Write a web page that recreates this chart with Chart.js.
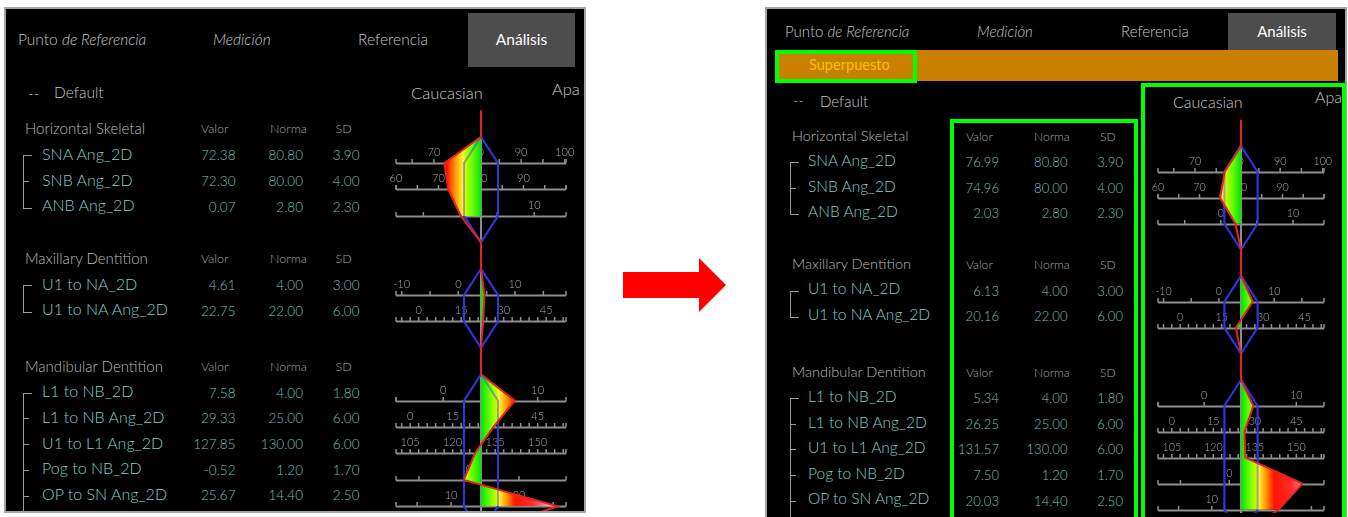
<!DOCTYPE html>
<html><head><meta charset="utf-8">
<script src="https://cdn.jsdelivr.net/npm/chart.js@4.4.1/dist/chart.umd.min.js"></script>
<style>
html,body{margin:0;padding:0;background:#fff;width:1348px;height:517px;overflow:hidden;font-family:Lato,"Noto Sans",sans-serif;font-weight:300;}
.abs{position:absolute;white-space:nowrap;line-height:1;}
.panel{position:absolute;background:#000;box-sizing:border-box;border:2px solid #a4a4a4;overflow:hidden;}
canvas{position:absolute;}
.gbox{position:absolute;box-sizing:border-box;border:4px solid #00ff00;z-index:10;}
</style></head><body>
<script>
// ---------------- DATA ----------------
const tabLabels = ["Punto de Referencia", "Medición", "Referencia", "Análisis"];
const overlayLabel = "Superpuesto";
const analysisName = "Default";
const normGroups = ["Caucasian", "Apa"];
const columnHeads = ["Valor", "Norma", "SD"];
const groupNames = ["Horizontal Skeletal", "Maxillary Dentition", "Mandibular Dentition"];
const groupSizes = [3, 2, 5];
const measures = ["SNA Ang_2D", "SNB Ang_2D", "ANB Ang_2D", "U1 to NA_2D", "U1 to NA Ang_2D",
  "L1 to NB_2D", "L1 to NB Ang_2D", "U1 to L1 Ang_2D", "Pog to NB_2D", "OP to SN Ang_2D"];
const valorBefore = [72.38, 72.30, 0.07, 4.61, 22.75, 7.58, 29.33, 127.85, -0.52, 25.67];
const valorAfter  = [76.99, 74.96, 2.03, 6.13, 20.16, 5.34, 26.25, 131.57, 7.50, 20.03];
const norma = [80.80, 80.00, 2.80, 4.00, 22.00, 4.00, 25.00, 130.00, 1.20, 14.40];
const sd    = [3.90, 4.00, 2.30, 3.00, 6.00, 1.80, 6.00, 6.00, 1.70, 2.50];
const rulerLabels = [[70, 80, 90, 100], [60, 70, 80, 90], [0, 10], [-10, 0, 10], [0, 15, 30, 45],
  [0, 10], [0, 15, 30, 45], [105, 120, 135, 150], [0], [10, 20]];
const rulerMinor = [5, 5, 5, 5, 3, 5, 3, 3, 5, 5];

// ---------------- LAYOUT ----------------
const LEFT = {
  k: 1, frame: {x: 4, y: 7, w: 582, h: 506},
  tabY: 40.5, tabX: [18, 213, 358], active: {x: 468, y: 13, w: 107, h: 54},
  dashX: 28, defaultX: 54, defaultY: 93.5, caucX: 411, caucY: 94, apaX: 552, apaY: 90,
  headY: [129.3, 259, 366.7], headX: 25, rowX: 42, rowStart: 25, rowStep: 25.7,
  colHeadX: [201, 270, 335.5], valRight: [235.5, 303, 359.5], bracketX: 23,
  chart: {left: 383, top: 104, w: 200, h: 407, cx: 481, pxSD: 17, apexY: 136.7, unit: 26.4}
};
const RIGHT = {
  k: 0.97, frame: {x: 765, y: 7, w: 582, h: 520},
  tabY: 31.5, tabX: [785, 977, 1121], active: {x: 1228, y: 13, w: 108, h: 37},
  bar: {x: 775, y: 50, w: 563, h: 31}, barTextX: 809, barTextY: 65.5,
  dashX: 793, defaultX: 820, defaultY: 101.7, caucX: 1173, caucY: 102, apaX: 1315, apaY: 97,
  headY: [136.7, 265, 372.7], headX: 792, rowX: 808, rowStart: 24.5, rowStep: 25.6,
  colHeadX: [966, 1034, 1100], valRight: [999, 1067.5, 1123], bracketX: 790,
  chart: {left: 1145, top: 87, w: 196, h: 426, cx: 1241, pxSD: 16.6, apexY: 145.7, unit: 26.0},
  boxes: [{x: 775, y: 50, w: 142, h: 33}, {x: 950, y: 119, w: 188, h: 402}, {x: 1141, y: 83, w: 205, h: 440}]
};

// ---------------- HELPERS ----------------
function text(parent, str, x, y, fs, color, o = {}) {
  const d = document.createElement('div');
  d.className = 'abs';
  if (o.html) d.innerHTML = o.html; else d.textContent = str;
  d.style.fontSize = fs + 'px';
  d.style.color = color;
  d.style.top = (y - 0.53 * fs) + 'px';
  d.style.left = x + 'px';
  if (o.right) d.style.transform = 'translateX(-100%)';
  if (o.center) d.style.transform = 'translateX(-50%)';
  if (o.italic) d.style.fontStyle = 'italic';
  if (o.weight) d.style.fontWeight = o.weight;
  parent.appendChild(d);
  return d;
}
function box(parent, x, y, w, h, css) {
  const d = document.createElement('div');
  d.style.position = 'absolute';
  d.style.left = x + 'px'; d.style.top = y + 'px';
  d.style.width = w + 'px'; d.style.height = h + 'px';
  Object.assign(d.style, css || {});
  parent.appendChild(d);
  return d;
}

const rulerPlugin = {
  id: 'rulers',
  beforeDatasetsDraw(chart, args, opts) {
    const {ctx} = chart;
    const xs = chart.scales.x, ys = chart.scales.y;
    ctx.save();
    ctx.font = opts.font;
    ctx.textAlign = 'center';
    ctx.textBaseline = 'middle';
    opts.rows.forEach(r => {
      const py = Math.round(ys.getPixelForValue(r.yv)) + 0.5;
      const xa = xs.getPixelForValue(-5), xb = xs.getPixelForValue(5);
      ctx.strokeStyle = '#8e8e8e';
      ctx.lineWidth = 2;
      ctx.beginPath(); ctx.moveTo(xa, py); ctx.lineTo(xb, py); ctx.stroke();
      ctx.lineWidth = 1.5;
      const lo = r.norm - 5 * r.sd, hi = r.norm + 5 * r.sd;
      const tks = [lo, hi];
      for (let t = Math.ceil(lo / r.minor) * r.minor; t <= hi + 1e-9; t += r.minor) tks.push(t);
      tks.forEach(t => {
        const px = xs.getPixelForValue((t - r.norm) / r.sd);
        ctx.beginPath(); ctx.moveTo(px, py); ctx.lineTo(px, py - 4.5); ctx.stroke();
      });
      ctx.fillStyle = '#a8a8a8';
      r.labels.forEach(t => {
        const px = xs.getPixelForValue((t - r.norm) / r.sd);
        ctx.fillText(String(t), px, py - opts.labelOffset);
      });
    });
    ctx.restore();
  }
};

function makeGradient(chart) {
  if (!chart.chartArea) return '#0f0';
  if (chart.$grad) return chart.$grad;
  const xs = chart.scales.x;
  const a = xs.getPixelForValue(-6), b = xs.getPixelForValue(6);
  const g = chart.ctx.createLinearGradient(a, 0, b, 0);
  const stops = [[0, '#00e600'], [0.6, '#7dff00'], [0.97, '#d2ff00'], [1.0, '#ffff40'],
    [1.5, '#ff9a00'], [2.0, '#ff1400'], [3.0, '#ff2a2a'], [4.6, '#fff0f0']];
  const add = (d, c) => g.addColorStop(Math.min(1, Math.max(0, (d + 6) / 12)), c);
  stops.slice().reverse().forEach(([d, c]) => add(-d, c));
  stops.forEach(([d, c]) => add(d, c));
  chart.$grad = g;
  return g;
}

function buildPanel(P, values, isAfter) {
  const panel = document.createElement('div');
  panel.className = 'panel';
  Object.assign(panel.style, {left: P.frame.x + 'px', top: P.frame.y + 'px', width: P.frame.w + 'px', height: P.frame.h + 'px'});
  document.body.appendChild(panel);
  const ox = P.frame.x + 2, oy = P.frame.y + 2;
  const T = (str, x, y, fs, color, o) => text(panel, str, x - ox, y - oy, fs * P.k, color, o || {});
  const B = (x, y, w, h, css) => box(panel, x - ox, y - oy, w, h, css);

  // tabs
  B(P.active.x, P.active.y, P.active.w, P.active.h, {background: '#4d4d4d'});
  const w0 = tabLabels[0].split(' ');
  T(tabLabels[0], P.tabX[0], P.tabY, 15.5, '#c8c8c8', {html: w0[0] + ' <i>' + w0.slice(1).join(' ') + '</i>'});
  T(tabLabels[1], P.tabX[1], P.tabY, 15.5, '#c8c8c8', {italic: true});
  T(tabLabels[2], P.tabX[2], P.tabY, 15.5, '#c8c8c8');
  T(tabLabels[3], P.active.x + P.active.w / 2, P.tabY, 15.5, '#ffffff', {center: true, weight: 400});

  if (isAfter) {
    B(P.bar.x, P.bar.y, P.bar.w, P.bar.h, {background: '#c98000'});
    T(overlayLabel, P.barTextX, P.barTextY, 15, '#f3c300', {weight: 400});
  }
  T('--', P.dashX, P.defaultY, 15, '#c8c8c8');
  T(analysisName, P.defaultX, P.defaultY, 15.5, '#c8c8c8');
  T(normGroups[0], P.caucX, P.caucY, 16.5, '#cacaca');
  T(normGroups[1], P.apaX, P.apaY, 16.5, '#cacaca');

  // table
  let m = 0;
  groupSizes.forEach((n, g) => {
    const hy = P.headY[g];
    T(groupNames[g], P.headX, hy, 15, '#bababa');
    columnHeads.forEach((c, ci) => T(c, P.colHeadX[ci], hy + 0.5, 12.5, '#a4a4a4'));
    const ys = [];
    for (let k = 0; k < n; k++, m++) {
      const y = hy + P.rowStart + P.rowStep * k;
      ys.push(y);
      T(measures[m], P.rowX, y, 16, '#7fd0c7');
      [values[m], norma[m], sd[m]].forEach((v, ci) =>
        T(v.toFixed(2), P.valRight[ci], y + 2, 13.5, '#72c3ba', {right: true}));
    }
    const last = g === groupSizes.length - 1;
    const yTop = ys[0] + 1, yBot = last ? P.frame.y + P.frame.h : ys[ys.length - 1] + 2;
    B(P.bracketX, yTop, 0, yBot - yTop, {borderLeft: '1.5px solid #9a9a9a'});
    ys.forEach((y, k) => {
      const len = (k === 0 || (k === ys.length - 1 && !last)) ? 9 : 6;
      B(P.bracketX, (k === ys.length - 1 && !last) ? yBot : y + 1, len, 0, {borderTop: '1.5px solid #9a9a9a'});
    });
  });

  // chart
  const C = P.chart;
  const cv = document.createElement('canvas');
  cv.width = C.w; cv.height = C.h;
  cv.style.left = (C.left - ox) + 'px'; cv.style.top = (C.top - oy) + 'px';
  cv.style.width = C.w + 'px'; cv.style.height = C.h + 'px';
  panel.appendChild(cv);

  const sdv = values.map((v, i) => (v - norma[i]) / sd[i]);
  const rowUnit = [], groupsL = [];
  let s = 0, idx = 0;
  groupSizes.forEach(n => {
    const g = {apex: s, bottom: s + n + 1, idx: []};
    for (let k = 0; k < n; k++, idx++) { rowUnit[idx] = s + 1 + k; g.idx.push(idx); }
    groupsL.push(g);
    s += n + 2;
  });
  const redLine = [{x: 0, y: -1}];
  groupsL.forEach(g => {
    redLine.push({x: 0, y: g.apex});
    g.idx.forEach(i => redLine.push({x: sdv[i], y: rowUnit[i]}));
    redLine.push({x: 0, y: g.bottom});
  });
  redLine.push({x: 0, y: s});

  const datasets = [];
  datasets.push({data: redLine, borderColor: '#e42222', borderWidth: 2, order: 0, fill: false});
  groupsL.forEach(g => {
    const hex = [{x: 0, y: g.apex}, ...g.idx.map(i => ({x: -1, y: rowUnit[i]})), {x: 0, y: g.bottom},
      ...g.idx.slice().reverse().map(i => ({x: 1, y: rowUnit[i]})), {x: 0, y: g.apex}];
    datasets.push({data: hex, borderColor: 'rgba(60,60,235,0.45)', borderWidth: 2, order: 1, fill: false});
    datasets.push({data: [{x: 0, y: g.apex}, ...g.idx.map(i => ({x: sdv[i], y: rowUnit[i]}))],
      borderColor: 'rgba(0,0,0,0)', borderWidth: 0, order: 2, fill: {value: 0},
      backgroundColor: ctx => makeGradient(ctx.chart)});
    datasets.push({data: hex, borderColor: '#2c2cd6', borderWidth: 2, order: 3, fill: false});
    datasets.push({data: [{x: 0, y: g.apex}, {x: 0, y: g.bottom}], borderColor: '#8c8c8c', borderWidth: 2, order: 4, fill: false});
  });

  const rows = measures.map((_, i) => ({norm: norma[i], sd: sd[i], yv: rowUnit[i], labels: rulerLabels[i], minor: rulerMinor[i]}));

  new Chart(cv, {
    type: 'line',
    data: {datasets},
    options: {
      indexAxis: 'y', animation: false, responsive: false, devicePixelRatio: 1,
      layout: {padding: 0},
      elements: {point: {radius: 0, hoverRadius: 0}, line: {tension: 0}},
      plugins: {legend: {display: false}, tooltip: {enabled: false},
        rulers: {rows, font: '300 ' + (11 * P.k) + 'px Lato, sans-serif', labelOffset: 11 * P.k}},
      scales: {
        x: {type: 'linear', display: false, min: (C.left - C.cx) / C.pxSD, max: (C.left + C.w - C.cx) / C.pxSD},
        y: {type: 'linear', display: false, reverse: true, min: (C.top - C.apexY) / C.unit, max: (C.top + C.h - C.apexY) / C.unit}
      }
    },
    plugins: [rulerPlugin]
  });

  if (P.boxes) P.boxes.forEach(b => box(document.body, b.x, b.y, b.w, b.h).className = 'gbox');
}

buildPanel(LEFT, valorBefore, false);
buildPanel(RIGHT, valorAfter, true);

// arrow between the two screenshots
box(document.body, 623, 258, 103, 54, {background: '#ff0000',
  clipPath: 'polygon(0 14px, 76px 14px, 76px 0, 103px 27px, 76px 54px, 76px 40px, 0 40px)'});
</script>
</body></html>
